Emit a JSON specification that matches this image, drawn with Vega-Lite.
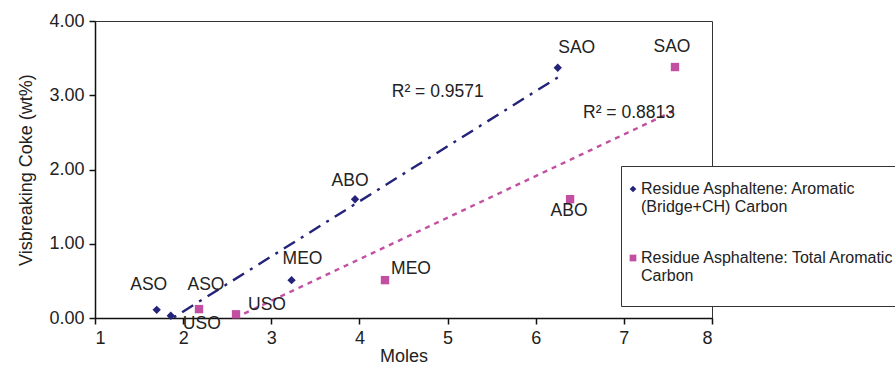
{
  "$schema": "https://vega.github.io/schema/vega-lite/v6.json",
  "width": 617,
  "height": 297,
  "autosize": {"type": "none"},
  "padding": {"left": 95, "top": 21, "right": 183, "bottom": 47},
  "background": "white",
  "config": {
    "font": "Liberation Sans",
    "view": {"stroke": "#333", "strokeWidth": 1},
    "style": {"guide-label": {"lineBreak": "|"}},
    "axis": {
      "grid": false,
      "domainColor": "#111",
      "domainWidth": 1.5,
      "tickColor": "#111",
      "tickWidth": 1.5,
      "tickSize": 6,
      "labelFontSize": 18,
      "labelColor": "#222",
      "labelPadding": 5,
      "titleFontSize": 18,
      "titleFontWeight": "normal",
      "titleColor": "#222"
    }
  },
  "data": {
    "values": [
      {"series": "Residue Asphaltene: Aromatic (Bridge+CH) Carbon", "group": "bridge", "label": "ASO", "x": 1.70, "y": 0.11, "r2": "R² = 0.9571"},
      {"series": "Residue Asphaltene: Aromatic (Bridge+CH) Carbon", "group": "bridge", "label": "USO", "x": 1.86, "y": 0.03, "r2": "R² = 0.9571"},
      {"series": "Residue Asphaltene: Aromatic (Bridge+CH) Carbon", "group": "bridge", "label": "MEO", "x": 3.23, "y": 0.51, "r2": "R² = 0.9571"},
      {"series": "Residue Asphaltene: Aromatic (Bridge+CH) Carbon", "group": "bridge", "label": "ABO", "x": 3.95, "y": 1.60, "r2": "R² = 0.9571"},
      {"series": "Residue Asphaltene: Aromatic (Bridge+CH) Carbon", "group": "bridge", "label": "SAO", "x": 6.25, "y": 3.37, "r2": "R² = 0.9571"},
      {"series": "Residue Asphaltene: Total Aromatic Carbon", "group": "total", "label": "ASO", "x": 2.18, "y": 0.12, "r2": "R² = 0.8813"},
      {"series": "Residue Asphaltene: Total Aromatic Carbon", "group": "total", "label": "USO", "x": 2.60, "y": 0.05, "r2": "R² = 0.8813"},
      {"series": "Residue Asphaltene: Total Aromatic Carbon", "group": "total", "label": "MEO", "x": 4.29, "y": 0.51, "r2": "R² = 0.8813"},
      {"series": "Residue Asphaltene: Total Aromatic Carbon", "group": "total", "label": "ABO", "x": 6.39, "y": 1.60, "r2": "R² = 0.8813"},
      {"series": "Residue Asphaltene: Total Aromatic Carbon", "group": "total", "label": "SAO", "x": 7.58, "y": 3.38, "r2": "R² = 0.8813"}
    ]
  },
  "encoding": {
    "x": {
      "field": "x",
      "type": "quantitative",
      "scale": {"domain": [1, 8], "nice": false, "zero": false},
      "axis": {"values": [1, 2, 3, 4, 5, 6, 7, 8], "title": "Moles", "titlePadding": 0}
    },
    "y": {
      "field": "y",
      "type": "quantitative",
      "scale": {"domain": [0, 4], "nice": false},
      "axis": {"values": [0, 1, 2, 3, 4], "format": ".2f", "title": "Visbreaking Coke (wt%)", "titlePadding": 13}
    }
  },
  "layer": [
    {
      "transform": [{"regression": "y", "on": "x", "groupby": ["group"]}],
      "mark": {"type": "line", "clip": true, "strokeWidth": 2.4},
      "encoding": {
        "stroke": {
          "field": "group",
          "type": "nominal",
          "scale": {"domain": ["bridge", "total"], "range": ["#24237a", "#c24fa2"]},
          "legend": null
        },
        "strokeDash": {
          "field": "group",
          "type": "nominal",
          "scale": {"domain": ["bridge", "total"], "range": [[13, 7, 3, 7], [5, 5]]},
          "legend": null
        }
      }
    },
    {
      "mark": {"type": "point", "filled": true, "opacity": 1, "size": 70},
      "encoding": {
        "color": {
          "field": "series",
          "type": "nominal",
          "scale": {"domain": ["Residue Asphaltene: Aromatic (Bridge+CH) Carbon", "Residue Asphaltene: Total Aromatic Carbon"], "range": ["#24237a", "#c24fa2"]},
          "legend": {
            "title": " ",
            "titleFontSize": 8,
            "titlePadding": 3,
            "orient": "none",
            "legendX": 526,
            "legendY": 145,
            "direction": "vertical",
            "strokeColor": "#333",
            "fillColor": "white",
            "padding": 4,
            "labelOffset": 0,
            "labelFontSize": 16,
            "labelColor": "#222",
            "labelLimit": 600,
            "rowPadding": 35,
            "symbolSize": 45,
            "labelExpr": "datum.label == 'Residue Asphaltene: Aromatic (Bridge+CH) Carbon' ? 'Residue Asphaltene: Aromatic|(Bridge+CH) Carbon' : 'Residue Asphaltene: Total Aromatic|Carbon| '"
          }
        },
        "shape": {
          "field": "series",
          "type": "nominal",
          "scale": {"domain": ["Residue Asphaltene: Aromatic (Bridge+CH) Carbon", "Residue Asphaltene: Total Aromatic Carbon"], "range": ["diamond", "square"]}
        }
      }
    },
    {"transform": [{"filter": "datum.group == 'bridge' && datum.label == 'ASO'"}], "mark": {"type": "text", "fontSize": 17.5, "color": "#222", "dx": -8, "dy": -25}, "encoding": {"text": {"field": "label"}}},
    {"transform": [{"filter": "datum.group == 'bridge' && datum.label == 'USO'"}], "mark": {"type": "text", "fontSize": 17.5, "color": "#222", "dx": 31, "dy": 8}, "encoding": {"text": {"field": "label"}}},
    {"transform": [{"filter": "datum.group == 'bridge' && datum.label == 'MEO'"}], "mark": {"type": "text", "fontSize": 17.5, "color": "#222", "dx": 11, "dy": -21}, "encoding": {"text": {"field": "label"}}},
    {"transform": [{"filter": "datum.group == 'bridge' && datum.label == 'ABO'"}], "mark": {"type": "text", "fontSize": 17.5, "color": "#222", "dx": -5, "dy": -18}, "encoding": {"text": {"field": "label"}}},
    {"transform": [{"filter": "datum.group == 'bridge' && datum.label == 'SAO'"}], "mark": {"type": "text", "fontSize": 17.5, "color": "#222", "dx": 19, "dy": -20}, "encoding": {"text": {"field": "label"}}},
    {"transform": [{"filter": "datum.group == 'total' && datum.label == 'ASO'"}], "mark": {"type": "text", "fontSize": 17.5, "color": "#222", "dx": 7, "dy": -24}, "encoding": {"text": {"field": "label"}}},
    {"transform": [{"filter": "datum.group == 'total' && datum.label == 'USO'"}], "mark": {"type": "text", "fontSize": 17.5, "color": "#222", "dx": 31, "dy": -9}, "encoding": {"text": {"field": "label"}}},
    {"transform": [{"filter": "datum.group == 'total' && datum.label == 'MEO'"}], "mark": {"type": "text", "fontSize": 17.5, "color": "#222", "dx": 26, "dy": -11}, "encoding": {"text": {"field": "label"}}},
    {"transform": [{"filter": "datum.group == 'total' && datum.label == 'ABO'"}], "mark": {"type": "text", "fontSize": 17.5, "color": "#222", "dx": -1, "dy": 12}, "encoding": {"text": {"field": "label"}}},
    {"transform": [{"filter": "datum.group == 'total' && datum.label == 'SAO'"}], "mark": {"type": "text", "fontSize": 17.5, "color": "#222", "dx": -3, "dy": -20}, "encoding": {"text": {"field": "label"}}},
    {"transform": [{"filter": "datum.group == 'bridge' && datum.label == 'SAO'"}], "mark": {"type": "text", "fontSize": 17.5, "color": "#222", "dx": -120, "dy": 24}, "encoding": {"text": {"field": "r2"}}},
    {"transform": [{"filter": "datum.group == 'total' && datum.label == 'SAO'"}], "mark": {"type": "text", "fontSize": 17.5, "color": "#222", "dx": -46, "dy": 46}, "encoding": {"text": {"field": "r2"}}}
  ]
}
